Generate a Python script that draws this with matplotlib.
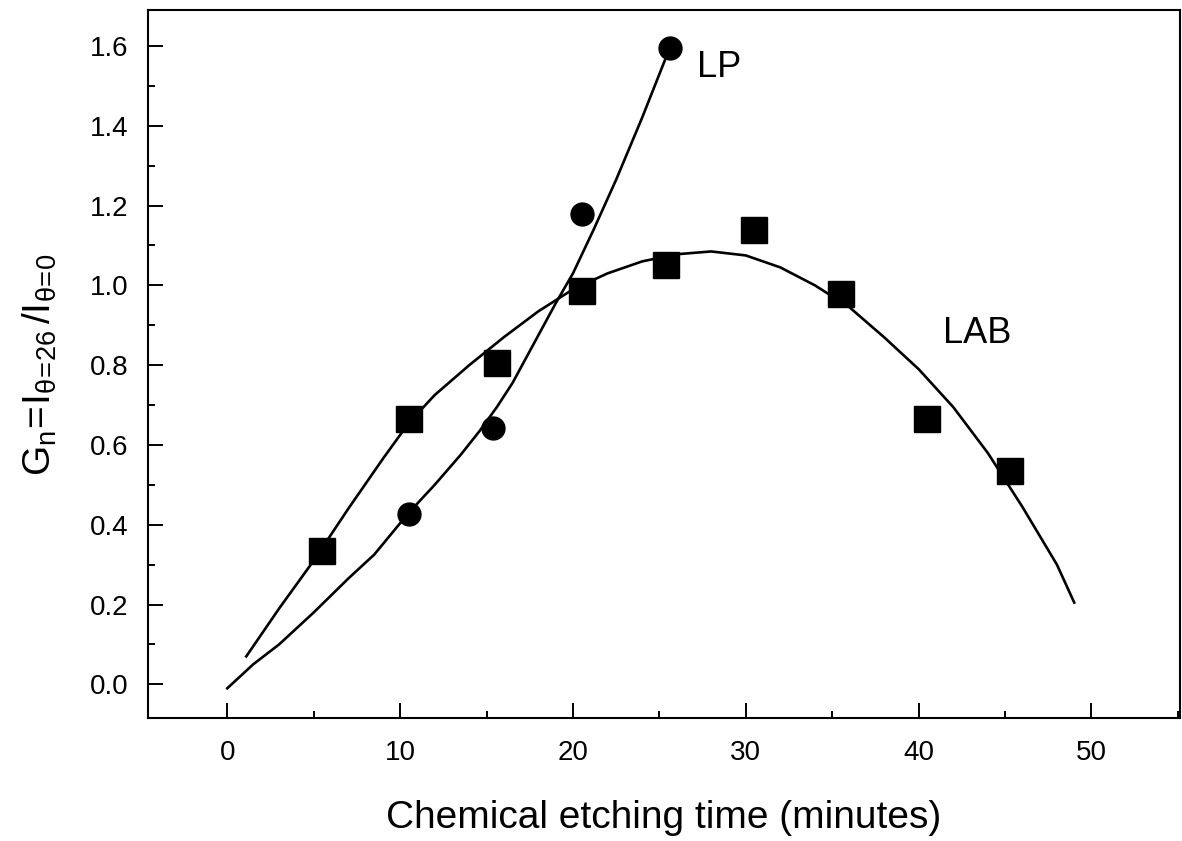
import numpy as np
import matplotlib
matplotlib.use("Agg")
import matplotlib.pyplot as plt
from matplotlib.ticker import MultipleLocator, FormatStrFormatter

plt.rcParams['font.family'] = ['Liberation Sans', 'DejaVu Sans']
plt.rcParams['mathtext.fontset'] = 'custom'
plt.rcParams['mathtext.rm'] = 'Liberation Sans'
plt.rcParams['mathtext.it'] = 'Liberation Sans'

# measured points
lab_x = [5.5, 10.5, 15.6, 20.5, 25.4, 30.5, 35.5, 40.5, 45.3]
lab_y = [0.335, 0.665, 0.805, 0.985, 1.05, 1.14, 0.978, 0.665, 0.535]
lp_x = [10.5, 15.4, 20.5, 25.6]
lp_y = [0.427, 0.642, 1.18, 1.595]

# fitted curves
lab_fit_x = [1.1, 3, 5, 7, 9, 10.5, 12, 14, 16, 18, 20, 22, 24, 26, 28,
             30, 32, 34, 36, 38, 40, 42, 44, 46, 48, 49]
lab_fit_y = [0.07, 0.19, 0.31, 0.44, 0.565, 0.655, 0.725, 0.80, 0.87, 0.935, 0.99,
             1.03, 1.06, 1.078, 1.085, 1.075, 1.045, 1.0, 0.945, 0.87, 0.79,
             0.695, 0.58, 0.445, 0.30, 0.205]
lp_fit_x = [0, 1.5, 3, 5, 7, 8.5, 10.5, 12, 13.5, 14.6, 15.6, 16.5, 18, 19,
            20, 21.2, 22.5, 24, 25.6]
lp_fit_y = [-0.01, 0.05, 0.10, 0.18, 0.265, 0.325, 0.43, 0.50, 0.575, 0.635,
            0.695, 0.755, 0.875, 0.955, 1.03, 1.14, 1.265, 1.42, 1.595]

fig = plt.figure(figsize=(11.82, 8.41), dpi=100)
ax = fig.add_axes([0.125, 0.146, 0.873, 0.842])

ax.plot(lab_fit_x, lab_fit_y, color='black', lw=1.9)
ax.plot(lp_fit_x, lp_fit_y, color='black', lw=1.9)
ax.plot(lab_x, lab_y, 's', color='black', ms=19, mec='black')
ax.plot(lp_x, lp_y, 'o', color='black', ms=16.5, mec='black')

ax.text(27.2, 1.545, 'LP', fontsize=26, va='center', ha='left')
ax.text(41.4, 0.88, 'LAB', fontsize=26, va='center', ha='left')

ax.set_xlim(-4.6, 55.1)
ax.set_ylim(-0.085, 1.69)
ax.xaxis.set_major_locator(MultipleLocator(10))
ax.xaxis.set_minor_locator(MultipleLocator(5))
ax.yaxis.set_major_locator(MultipleLocator(0.2))
ax.yaxis.set_minor_locator(MultipleLocator(0.1))
ax.yaxis.set_major_formatter(FormatStrFormatter('%.1f'))

ax.tick_params(which='both', direction='in', top=False, right=False, width=1.4)
ax.tick_params(which='major', length=10.5, labelsize=20)
ax.tick_params(which='minor', length=5)
ax.tick_params(axis='x', which='major', pad=16)
ax.tick_params(axis='y', which='major', pad=14)
for s in ax.spines.values():
    s.set_linewidth(1.5)

ax.set_xlabel('Chemical etching time (minutes)', fontsize=28, labelpad=24)
ax.set_ylabel(r'$\mathregular{G_n\!=\!I_{\theta\!=\!26}\,/I_{\theta\!=\!0}}$',
              fontsize=28, labelpad=22)

fig.savefig('out.png', dpi=100)
